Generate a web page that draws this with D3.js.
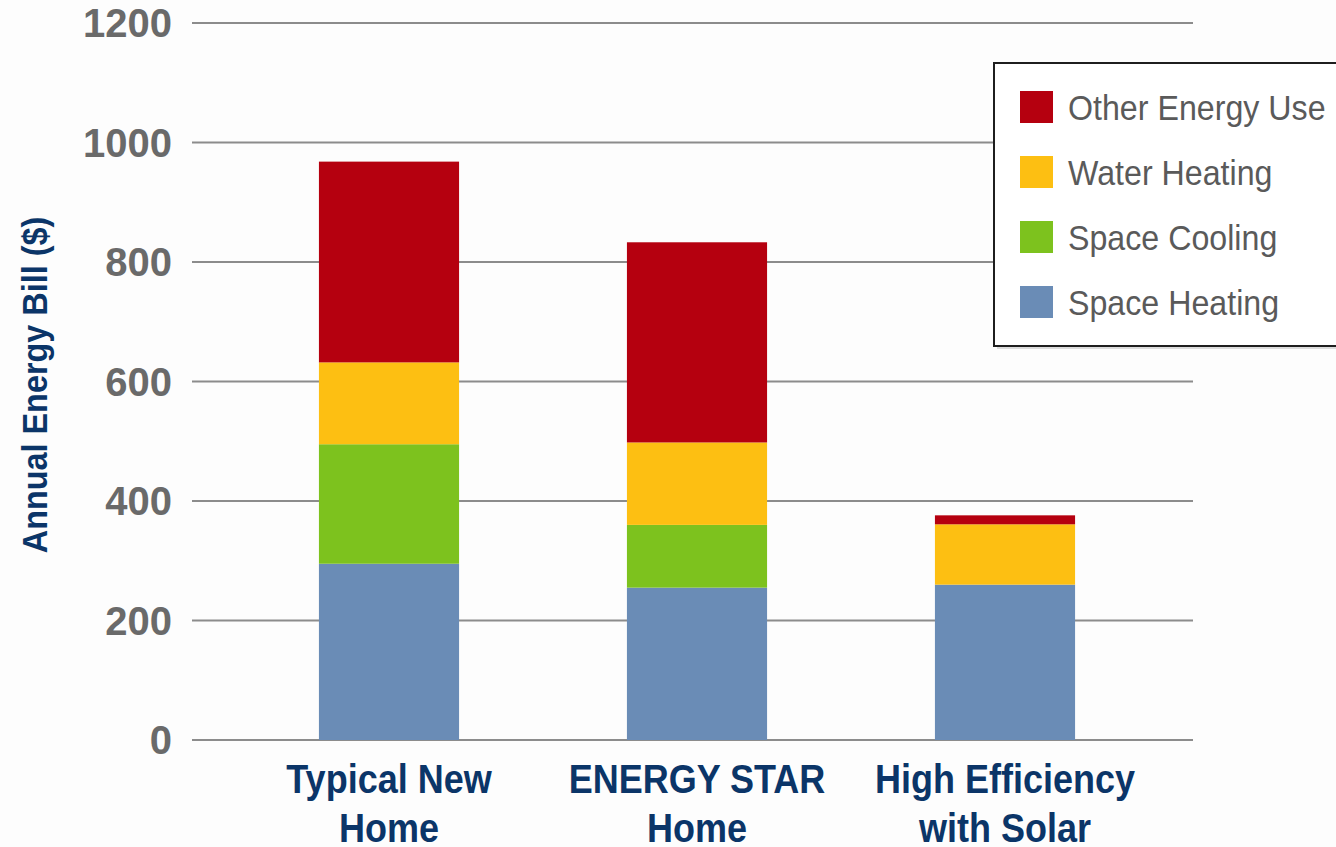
<!DOCTYPE html>
<html>
<head>
<meta charset="utf-8">
<script src="https://cdn.jsdelivr.net/npm/d3@7"></script>
<style>
  html, body { margin: 0; padding: 0; background: #fdfdfd; }
  svg { display: block; }
  .tick-label { font-family: "Liberation Sans", Arial, sans-serif; font-weight: bold; fill: #6a6a6a; }
  .cat-label, .y-title { font-family: "Liberation Sans", Arial, sans-serif; font-weight: bold; fill: #0b3568; }
  .legend-label { font-family: "Liberation Sans", Arial, sans-serif; fill: #5a5a5a; }
</style>
</head>
<body>
<svg width="1336" height="847"></svg>
<script>
// chart data
var categories = [['Typical New', 'Home'], ['ENERGY STAR', 'Home'], ['High Efficiency', 'with Solar']];
var seriesNames = ['Space Heating', 'Space Cooling', 'Water Heating', 'Other Energy Use'];
var spaceHeating = [295, 255, 260];
var spaceCooling = [200, 105, 0];
var waterHeating = [137, 138, 101];
var otherEnergy = [336, 335, 15];
var yTicks = [0, 200, 400, 600, 800, 1000, 1200];
var colors = ['#6a8cb6', '#7dc21e', '#fdbf12', '#b5000f'];

var svg = d3.select('svg');
var plot = { left: 192, right: 1193, top: 23, bottom: 740 };

var rows = categories.map(function (c, i) {
  return {
    key: i,
    'Space Heating': spaceHeating[i],
    'Space Cooling': spaceCooling[i],
    'Water Heating': waterHeating[i],
    'Other Energy Use': otherEnergy[i]
  };
});

var xScale = d3.scaleBand()
  .domain(d3.range(categories.length))
  .range([235, 1159])
  .paddingInner(0.545)
  .paddingOuter(0.2725);

var yScale = d3.scaleLinear()
  .domain([0, 1200])
  .range([plot.bottom, plot.top]);

var color = d3.scaleOrdinal().domain(seriesNames).range(colors);

// gridlines
svg.append('g')
  .selectAll('line')
  .data(yTicks)
  .join('line')
  .attr('x1', plot.left)
  .attr('x2', plot.right)
  .attr('y1', function (d) { return yScale(d); })
  .attr('y2', function (d) { return yScale(d); })
  .attr('stroke', '#8c8c8c')
  .attr('stroke-width', 2);

// y tick labels
svg.append('g')
  .selectAll('text')
  .data(yTicks)
  .join('text')
  .attr('class', 'tick-label')
  .attr('x', 172)
  .attr('y', function (d) { return yScale(d); })
  .attr('dy', '0.36em')
  .attr('text-anchor', 'end')
  .attr('font-size', 40)
  .text(function (d) { return d; });

// stacked bars
var stack = d3.stack().keys(seriesNames)(rows);

svg.append('g')
  .selectAll('g')
  .data(stack)
  .join('g')
  .attr('fill', function (d) { return color(d.key); })
  .selectAll('rect')
  .data(function (d) { return d; })
  .join('rect')
  .attr('x', function (d) { return xScale(d.data.key); })
  .attr('y', function (d) { return yScale(d[1]); })
  .attr('width', xScale.bandwidth())
  .attr('height', function (d) { return yScale(d[0]) - yScale(d[1]); });

// category labels (squeezed a bit to look condensed)
var cat = svg.append('g')
  .selectAll('text')
  .data(categories)
  .join('text')
  .attr('class', 'cat-label')
  .attr('font-size', 40)
  .attr('text-anchor', 'middle')
  .attr('transform', function (d, i) {
    return 'translate(' + (xScale(i) + xScale.bandwidth() / 2) + ',793) scale(0.9,1)';
  });

cat.selectAll('tspan')
  .data(function (d) { return d; })
  .join('tspan')
  .attr('x', 0)
  .attr('dy', function (d, i) { return i === 0 ? 0 : 49; })
  .text(function (d) { return d; });

// y axis title
svg.append('text')
  .attr('class', 'y-title')
  .attr('font-size', 36)
  .attr('text-anchor', 'middle')
  .attr('transform', 'translate(47,385) rotate(-90) scale(0.9,1)')
  .text('Annual Energy Bill ($)');

// legend
var legend = svg.append('g').attr('transform', 'translate(994,63)');

legend.append('rect')
  .attr('x', 3).attr('y', 3)
  .attr('width', 345).attr('height', 283)
  .attr('fill', '#bbb')
  .attr('opacity', 0.5);

legend.append('rect')
  .attr('width', 345).attr('height', 283)
  .attr('fill', '#fff')
  .attr('stroke', '#1e1e1e')
  .attr('stroke-width', 2);

var legendOrder = seriesNames.slice().reverse();

var item = legend.selectAll('g.item')
  .data(legendOrder)
  .join('g')
  .attr('class', 'item')
  .attr('transform', function (d, i) { return 'translate(26,' + (28 + i * 65) + ')'; });

item.append('rect')
  .attr('width', 33)
  .attr('height', 32)
  .attr('fill', function (d) { return color(d); });

item.append('text')
  .attr('class', 'legend-label')
  .attr('transform', 'translate(48,29) scale(0.92,1)')
  .attr('font-size', 35)
  .text(function (d) { return d; });
</script>
</body>
</html>
